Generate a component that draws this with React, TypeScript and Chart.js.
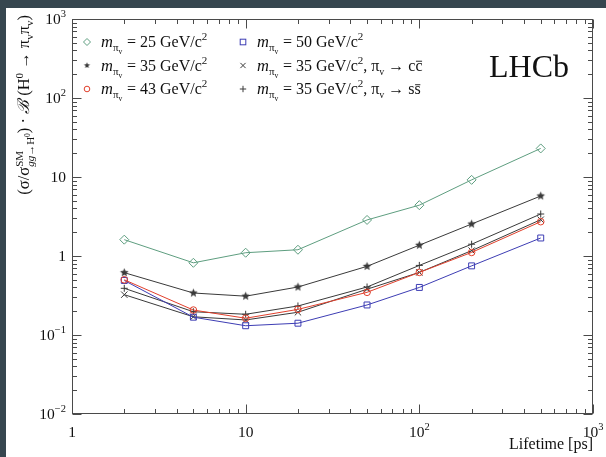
import React, { useEffect, useRef } from "react";
import { Chart, registerables } from "chart.js";
Chart.register(...registerables);

// ---------- data ----------
const lifetimes = [2, 5, 10, 20, 50, 100, 200, 500];
const m25 = [1.61, 0.82, 1.1, 1.2, 2.86, 4.4, 9.2, 23];
const m35 = [0.615, 0.34, 0.31, 0.405, 0.74, 1.37, 2.54, 5.75];
const m43 = [0.5, 0.207, 0.163, 0.211, 0.347, 0.62, 1.11, 2.72];
const m50 = [0.49, 0.168, 0.131, 0.141, 0.24, 0.4, 0.75, 1.69];
const m35cc = [0.324, 0.17, 0.155, 0.194, 0.38, 0.62, 1.17, 2.88];
const m35ss = [0.39, 0.197, 0.183, 0.233, 0.405, 0.76, 1.41, 3.4];

const xMajorTicks = [1, 10, 100, 1000];
const xTickLabels: [string, string][] = [["1", ""], ["10", ""], ["10", "2"], ["10", "3"]];
const yMajorTicks = [0.01, 0.1, 1, 10, 100, 1000];
const yTickLabels: [string, string][] = [["10", "\u22122"], ["10", "\u22121"], ["1", ""], ["10", ""], ["10", "2"], ["10", "3"]];

const legendMasses = ["25", "35", "43", "50", "35", "35"];

const SERIF = '"Liberation Serif", "Times New Roman", serif';
const C_GREEN = "#5e9e80";
const C_BLUE = "#3d3db4";
const C_RED = "#e2402c";
const C_DARK = "#3a3a3a";

type Run = { t: string; s: number; dy?: number; it?: boolean; na?: boolean; ov?: boolean };

function fontOf(r: Run) {
  return `${r.it ? "italic " : ""}${r.s}px ${SERIF}`;
}

function rich(ctx: CanvasRenderingContext2D, runs: Run[], x: number, y: number, align: "left" | "right" | "center") {
  const ws = runs.map((r) => {
    ctx.font = fontOf(r);
    return ctx.measureText(r.t).width;
  });
  let w = 0;
  runs.forEach((r, i) => {
    if (!r.na) w += ws[i];
  });
  let cx = align === "left" ? x : align === "right" ? x - w : x - w / 2;
  ctx.textAlign = "left";
  ctx.textBaseline = "alphabetic";
  runs.forEach((r, i) => {
    ctx.font = fontOf(r);
    const yy = y + (r.dy || 0);
    ctx.fillText(r.t, cx, yy);
    if (r.ov) {
      ctx.save();
      ctx.lineWidth = 0.9;
      ctx.strokeStyle = ctx.fillStyle as string;
      ctx.beginPath();
      ctx.moveTo(cx + 0.5, yy - r.s * 0.58);
      ctx.lineTo(cx + ws[i] - 0.5, yy - r.s * 0.58);
      ctx.stroke();
      ctx.restore();
    }
    if (!r.na) cx += ws[i];
  });
  return w;
}

function makeStar(r: number, color: string) {
  const size = Math.ceil(r * 2) + 2;
  const c = document.createElement("canvas");
  c.width = size;
  c.height = size;
  const g = c.getContext("2d")!;
  g.fillStyle = color;
  g.beginPath();
  for (let i = 0; i < 10; i++) {
    const ang = -Math.PI / 2 + (i * Math.PI) / 5;
    const rr = i % 2 === 0 ? r : r * 0.45;
    g.lineTo(size / 2 + rr * Math.cos(ang), size / 2 + rr * Math.sin(ang));
  }
  g.closePath();
  g.fill();
  return c;
}

function drawMarker(ctx: CanvasRenderingContext2D, kind: string, x: number, y: number, r: number, color: string, star?: HTMLCanvasElement) {
  ctx.save();
  ctx.strokeStyle = color;
  ctx.fillStyle = color;
  ctx.lineWidth = 1;
  ctx.beginPath();
  if (kind === "diamond") {
    ctx.moveTo(x, y - r);
    ctx.lineTo(x + r, y);
    ctx.lineTo(x, y + r);
    ctx.lineTo(x - r, y);
    ctx.closePath();
    ctx.stroke();
  } else if (kind === "square") {
    ctx.strokeRect(x - r, y - r, 2 * r, 2 * r);
  } else if (kind === "circle") {
    ctx.arc(x, y, r, 0, Math.PI * 2);
    ctx.stroke();
  } else if (kind === "star" && star) {
    ctx.drawImage(star, x - star.width / 2, y - star.height / 2);
  } else if (kind === "x") {
    ctx.moveTo(x - r, y - r);
    ctx.lineTo(x + r, y + r);
    ctx.moveTo(x + r, y - r);
    ctx.lineTo(x - r, y + r);
    ctx.stroke();
  } else if (kind === "plus") {
    ctx.moveTo(x - r, y);
    ctx.lineTo(x + r, y);
    ctx.moveTo(x, y - r);
    ctx.lineTo(x, y + r);
    ctx.stroke();
  }
  ctx.restore();
}

export default function App() {
  const ref = useRef<HTMLCanvasElement | null>(null);

  useEffect(() => {
    if (!ref.current) return;
    const starPlot = makeStar(4.5, C_DARK);
    const starLegend = makeStar(3.2, C_DARK);

    const pts = (ys: number[]) => lifetimes.map((x, i) => ({ x, y: ys[i] }));

    const decor = {
      id: "decor",
      beforeDraw(chart: any) {
        const { ctx, width, height } = chart;
        ctx.save();
        ctx.fillStyle = "#36464f";
        ctx.fillRect(0, 0, width, height);
        ctx.fillStyle = "#ffffff";
        ctx.fillRect(6, 8, width - 6, height - 8);
        ctx.restore();
      },
      afterDatasetsDraw(chart: any) {
        const ctx: CanvasRenderingContext2D = chart.ctx;
        const a = chart.chartArea;
        const xs = chart.scales.x;
        const ys = chart.scales.y;
        ctx.save();
        // frame
        ctx.strokeStyle = "#4a4a4a";
        ctx.lineWidth = 1;
        const L = Math.round(a.left) + 0.5;
        const R = Math.round(a.right) - 0.5;
        const T = Math.round(a.top) + 0.5;
        const B = Math.round(a.bottom) - 0.5;
        ctx.strokeRect(L, T, R - L, B - T);
        ctx.beginPath();
        const majX = 9, minX = 4.5, majY = 9, minY = 4.5;
        // x ticks
        xMajorTicks.forEach((d) => {
          for (let k = 1; k <= 9; k++) {
            const v = d * k;
            if (v > 1000 + 1e-9) continue;
            const px = Math.round(xs.getPixelForValue(v)) + 0.5;
            const len = k === 1 ? majX : minX;
            ctx.moveTo(px, B);
            ctx.lineTo(px, B - len);
            ctx.moveTo(px, T);
            ctx.lineTo(px, T + len);
          }
        });
        // y ticks
        yMajorTicks.forEach((d) => {
          for (let k = 1; k <= 9; k++) {
            const v = d * k;
            if (v > 1000 + 1e-9) continue;
            const py = Math.round(ys.getPixelForValue(v)) + 0.5;
            const len = k === 1 ? majY : minY;
            ctx.moveTo(L, py);
            ctx.lineTo(L + len, py);
            ctx.moveTo(R, py);
            ctx.lineTo(R - len, py);
          }
        });
        ctx.stroke();

        // tick labels
        ctx.fillStyle = "#111";
        xMajorTicks.forEach((v, i) => {
          const [b, e] = xTickLabels[i];
          const runs: Run[] = [{ t: b, s: 15.5 }];
          if (e) runs.push({ t: e, s: 10.5, dy: -7 });
          rich(ctx, runs, xs.getPixelForValue(v), a.bottom + 23, "center");
        });
        yMajorTicks.forEach((v, i) => {
          const [b, e] = yTickLabels[i];
          const runs: Run[] = [{ t: b, s: 15.5 }];
          if (e) runs.push({ t: e, s: 10.5, dy: -7 });
          rich(ctx, runs, a.left - 6, ys.getPixelForValue(v) + 5, "right");
        });

        // x title
        rich(ctx, [{ t: "Lifetime [ps]", s: 16 }], a.right, 449, "right");

        // y title (rotated)
        ctx.save();
        ctx.translate(29, 15);
        ctx.rotate(-Math.PI / 2);
        rich(
          ctx,
          [
            { t: "(\u03c3/\u03c3", s: 16.5 },
            { t: "SM", s: 11, dy: -6.5, na: true },
            { t: "gg", s: 11, dy: 5, it: true },
            { t: "\u2192H", s: 11, dy: 5 },
            { t: "0", s: 7.5, dy: 1 },
            { t: ") \u00b7 ", s: 16.5 },
            { t: "\u212c", s: 16.5, it: true },
            { t: " (H", s: 16.5 },
            { t: "0", s: 11, dy: -6.5 },
            { t: " \u2192 \u03c0", s: 16.5 },
            { t: "v", s: 11, dy: 4 },
            { t: "\u03c0", s: 16.5 },
            { t: "v", s: 11, dy: 4 },
            { t: ")", s: 16.5 },
          ],
          0,
          0,
          "right"
        );
        ctx.restore();

        // legend
        const rowsY = [42, 65.5, 89];
        const entries = [
          { col: 0, row: 0, kind: "diamond", color: C_GREEN, r: 3.5, mass: legendMasses[0], tail: "" },
          { col: 0, row: 1, kind: "star", color: C_DARK, r: 3.2, mass: legendMasses[1], tail: "" },
          { col: 0, row: 2, kind: "circle", color: C_RED, r: 2.8, mass: legendMasses[2], tail: "" },
          { col: 1, row: 0, kind: "square", color: C_BLUE, r: 2.8, mass: legendMasses[3], tail: "" },
          { col: 1, row: 1, kind: "x", color: C_DARK, r: 2.6, mass: legendMasses[4], tail: "c" },
          { col: 1, row: 2, kind: "plus", color: C_DARK, r: 3.2, mass: legendMasses[5], tail: "s" },
        ];
        const colMarker = [87, 243];
        const colM = [101, 257];
        const colEq = [127, 283];
        entries.forEach((en) => {
          const y = rowsY[en.row];
          drawMarker(ctx, en.kind, colMarker[en.col], y, en.r, en.color, starLegend);
          ctx.fillStyle = "#111";
          const base = y + 5;
          rich(
            ctx,
            [
              { t: "m", s: 16.5, it: true },
              { t: "\u03c0", s: 11, dy: 4 },
              { t: "v", s: 7.5, dy: 7 },
            ],
            colM[en.col],
            base,
            "left"
          );
          const runs: Run[] = [
            { t: `= ${en.mass} GeV/c`, s: 16 },
            { t: "2", s: 11, dy: -7 },
          ];
          if (en.tail) {
            runs.push({ t: ", \u03c0", s: 16 });
            runs.push({ t: "v", s: 10, dy: 4 });
            runs.push({ t: " \u2192 " + en.tail, s: 16 });
            runs.push({ t: en.tail, s: 16, ov: true });
          }
          rich(ctx, runs, colEq[en.col], base, "left");
        });

        // LHCb
        ctx.fillStyle = "#111";
        rich(ctx, [{ t: "LHCb", s: 32 }], 489, 77, "left");
        ctx.restore();
      },
    };

    const ds = (label: string, data: number[], color: string, style: any, radius: number, order: number) => ({
      label,
      data: pts(data),
      borderColor: color,
      backgroundColor: "rgba(0,0,0,0)",
      pointBorderColor: color,
      pointBackgroundColor: "rgba(0,0,0,0)",
      pointStyle: style,
      pointRadius: radius,
      pointBorderWidth: 1,
      borderWidth: 1,
      tension: 0,
      fill: false,
      order,
    });

    const chart = new Chart(ref.current, {
      type: "line",
      data: {
        datasets: [
          ds("m25", m25, C_GREEN, "rectRot", 4.5, 6),
          ds("m35", m35, C_DARK, starPlot, 4.5, 5),
          ds("m35ss", m35ss, C_DARK, "cross", 3.5, 4),
          ds("m35cc", m35cc, C_DARK, "crossRot", 4.5, 3),
          ds("m50", m50, C_BLUE, "rect", 4.2, 2),
          ds("m43", m43, C_RED, "circle", 3.3, 1),
        ] as any,
      },
      options: {
        responsive: false,
        animation: false,
        devicePixelRatio: 1,
        layout: { padding: { left: 72, right: 13, top: 19, bottom: 43 } },
        scales: {
          x: { type: "logarithmic", min: 1, max: 1000, display: false },
          y: { type: "logarithmic", min: 0.01, max: 1000, display: false },
        },
        plugins: { legend: { display: false }, tooltip: { enabled: false } },
        events: [],
      },
      plugins: [decor],
    } as any);
    return () => chart.destroy();
  }, []);

  return (
    <div style={{ position: "fixed", left: 0, top: 0, width: 606, height: 457 }}>
      <canvas ref={ref} width={606} height={457} style={{ display: "block", width: 606, height: 457 }} />
    </div>
  );
}
